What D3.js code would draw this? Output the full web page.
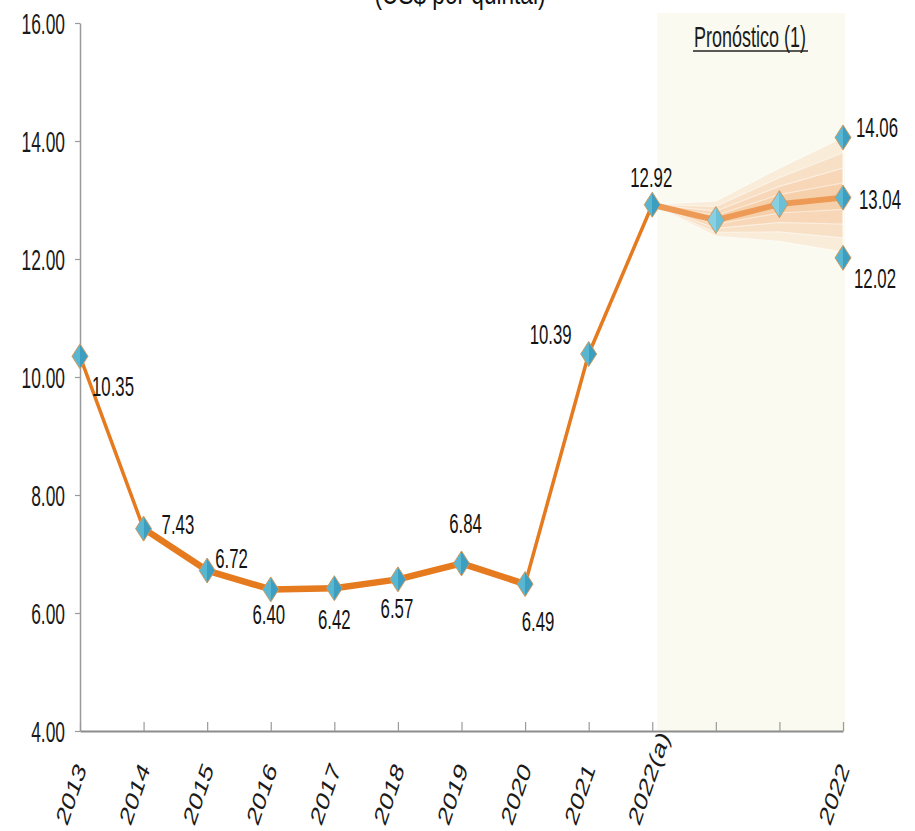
<!DOCTYPE html>
<html>
<head>
<meta charset="utf-8">
<script src="https://cdn.jsdelivr.net/npm/d3@7"></script>
<style>
  html, body { margin: 0; padding: 0; background: #ffffff; }
  svg { display: block; font-family: "Liberation Sans", Arial, sans-serif; }
</style>
</head>
<body>
<svg id="chart" width="915" height="831"></svg>
<script>
// Categories along the x axis (two unlabeled forecast steps before the final year)
const categories = ["2013", "2014", "2015", "2016", "2017", "2018", "2019", "2020", "2021", "2022(a)", "", "", "2022"];

// Observed price, US$ per quintal
const observed = [10.35, 7.43, 6.72, 6.40, 6.42, 6.57, 6.84, 6.49, 10.39, 12.92];

// Forecast path (starts at the last observed value)
const forecastIndex = [9, 10, 11, 12];
const forecastCentral = [12.92, 12.66, 12.93, 13.04];

// Fan bands, outer to inner
const fanUpper = [
  [12.92, 12.98, 13.54, 14.06],
  [12.92, 12.89, 13.38, 13.80],
  [12.92, 12.81, 13.23, 13.54],
  [12.92, 12.74, 13.09, 13.29]
];
const fanLower = [
  [12.92, 12.39, 12.30, 12.12],
  [12.92, 12.45, 12.46, 12.36],
  [12.92, 12.52, 12.62, 12.59],
  [12.92, 12.59, 12.78, 12.84]
];

// Forecast range endpoints
const rangeHigh = 14.06;
const rangeLow = 12.02;

const yTicks = [4, 6, 8, 10, 12, 14, 16];

const svg = d3.select("#chart");
const SX = 0.6; // condensed text width

const x = d3.scaleLinear().domain([0, 12]).range([80, 843]);
const y = d3.scaleLinear().domain([4, 16]).range([731, 23]);

// Forecast shaded panel
svg.append("rect")
  .attr("x", x(9) + 5).attr("y", 13)
  .attr("width", x(12) - x(9) - 3).attr("height", y(4) - 13)
  .attr("fill", "#fafaf0");

// Title (runs off the top edge)
svg.append("text")
  .attr("transform", `translate(460,4) scale(0.78,1)`)
  .attr("text-anchor", "middle")
  .attr("font-size", 29).attr("fill", "#111")
  .text("(US$ por quintal)");

// Forecast heading
svg.append("text")
  .attr("transform", `translate(750,47) scale(0.62,1)`)
  .attr("text-anchor", "middle")
  .attr("font-size", 29).attr("fill", "#1a1a1a")
  .text("Pronóstico (1)");
svg.append("line")
  .attr("x1", 693).attr("x2", 808).attr("y1", 51).attr("y2", 51)
  .attr("stroke", "#222").attr("stroke-width", 1.5);

// Y axis
const yAxis = svg.append("g")
  .attr("transform", `translate(${x(0)},0)`)
  .call(d3.axisLeft(y).tickValues(yTicks).tickFormat(d3.format(".2f")).tickSize(5).tickSizeOuter(0));
yAxis.select(".domain").attr("stroke", "#9a9a9a").attr("stroke-width", 1.5);
yAxis.selectAll(".tick line").attr("stroke", "#9a9a9a").attr("stroke-width", 1.2);
yAxis.selectAll(".tick text")
  .attr("x", 0).attr("dy", "0.36em")
  .attr("transform", `translate(-15,0) scale(${SX},1)`)
  .attr("font-size", 29).attr("fill", "#1a1a1a")
  .attr("font-family", "Liberation Sans, Arial, sans-serif");

// X axis with upward ticks
const xAxis = svg.append("g")
  .attr("transform", `translate(0,${y(4)})`)
  .call(d3.axisBottom(x).tickValues(d3.range(categories.length)).tickFormat("").tickSizeInner(-9).tickSizeOuter(0));
xAxis.select(".domain").attr("stroke", "#8c8c8c").attr("stroke-width", 2.2);
xAxis.selectAll(".tick line").attr("stroke", "#9a9a9a").attr("stroke-width", 1.2);

// Slanted category labels (steep baseline, sheared glyphs)
svg.append("g").selectAll("text")
  .data(categories.map((c, i) => ({ c, i })).filter(d => d.c !== ""))
  .join("text")
  .attr("transform", d => `matrix(0.45,-1.30,0.85,0.6,${x(d.i) - 13},827)`)
  .attr("text-anchor", "start")
  .attr("font-size", 20).attr("fill", "#1a1a1a")
  .text(d => d.c);

// Fan bands
const band = d3.area()
  .x((d, i) => x(forecastIndex[i]))
  .y0(d => y(d[0]))
  .y1(d => y(d[1]));
fanUpper.forEach((up, k) => {
  const pts = up.map((u, i) => [fanLower[k][i], u]);
  svg.append("path")
    .attr("d", band(pts))
    .attr("fill", "#f3b47c")
    .attr("fill-opacity", 0.2)
    .attr("stroke", "#ffffff")
    .attr("stroke-opacity", 0.5)
    .attr("stroke-width", 1.2);
});

// Central forecast line
const line = d3.line().x(d => x(d[0])).y(d => y(d[1]));
svg.append("path")
  .attr("d", line(forecastIndex.map((ix, i) => [ix, forecastCentral[i]])))
  .attr("fill", "none")
  .attr("stroke", "#ec9a55")
  .attr("stroke-width", 6)
  .attr("stroke-linejoin", "round");

// Observed line: thicker across the low-price stretch
const segs = d3.pairs(observed.map((v, i) => [i, v]));
svg.append("g").selectAll("path")
  .data(segs)
  .join("path")
  .attr("d", d => line(d))
  .attr("fill", "none")
  .attr("stroke", "#e57a1f")
  .attr("stroke-width", d => (d[0][0] >= 1 && d[1][0] <= 7) ? 6.5 : 3.5)
  .attr("stroke-linecap", "round");

// Diamond markers
const defs = svg.append("defs");
function grad(id, a, b) {
  const g = defs.append("linearGradient").attr("id", id)
    .attr("x1", "0%").attr("x2", "100%").attr("y1", "0%").attr("y2", "0%");
  g.append("stop").attr("offset", "50%").attr("stop-color", a);
  g.append("stop").attr("offset", "50%").attr("stop-color", b);
}
grad("dmain", "#58b6d1", "#3c9fc2");
grad("dlight", "#86d0e2", "#6bbfd6");

const diamond = (w, h) => `M0,${-h}L${w},0L0,${h}L${-w},0Z`;

const markers = observed.map((v, i) => ({ i, v, fill: "url(#dmain)" }))
  .concat([
    { i: 10, v: forecastCentral[1], fill: "url(#dlight)" },
    { i: 11, v: forecastCentral[2], fill: "url(#dlight)" },
    { i: 12, v: forecastCentral[3], fill: "url(#dmain)" },
    { i: 12, v: rangeHigh, fill: "url(#dmain)" },
    { i: 12, v: rangeLow, fill: "url(#dmain)" }
  ]);

svg.append("g").selectAll("path")
  .data(markers)
  .join("path")
  .attr("transform", d => `translate(${x(d.i)},${y(d.v)})`)
  .attr("d", d => d.i === 10 || d.i === 11 ? diamond(8.5, 13.5) : diamond(8, 12.5))
  .attr("fill", d => d.fill)
  .attr("stroke", "#cf9a5e")
  .attr("stroke-width", 1);

// Value labels: offsets from each point
const labels = [
  { i: 0, v: observed[0], dx: 12, dy: 40, a: "start" },
  { i: 1, v: observed[1], dx: 18, dy: 5, a: "start" },
  { i: 2, v: observed[2], dx: 8, dy: -3, a: "start" },
  { i: 3, v: observed[3], dx: -2, dy: 35, a: "middle" },
  { i: 4, v: observed[4], dx: 0, dy: 41, a: "middle" },
  { i: 5, v: observed[5], dx: -1, dy: 39, a: "middle" },
  { i: 6, v: observed[6], dx: 4, dy: -30, a: "middle" },
  { i: 7, v: observed[7], dx: 13, dy: 47, a: "middle" },
  { i: 8, v: observed[8], dx: -17, dy: -10, a: "end" },
  { i: 9, v: observed[9], dx: -1, dy: -18, a: "middle" },
  { i: 12, v: rangeHigh, dx: 13, dy: 0, a: "start" },
  { i: 12, v: forecastCentral[3], dx: 16, dy: 11, a: "start" },
  { i: 12, v: rangeLow, dx: 11, dy: 30, a: "start" }
];

svg.append("g").selectAll("text")
  .data(labels)
  .join("text")
  .attr("transform", d => `translate(${x(d.i) + d.dx},${y(d.v) + d.dy}) scale(${SX},1)`)
  .attr("text-anchor", d => d.a)
  .attr("font-size", 28)
  .attr("fill", "#141414")
  .text(d => d3.format(".2f")(d.v));
</script>
</body>
</html>
